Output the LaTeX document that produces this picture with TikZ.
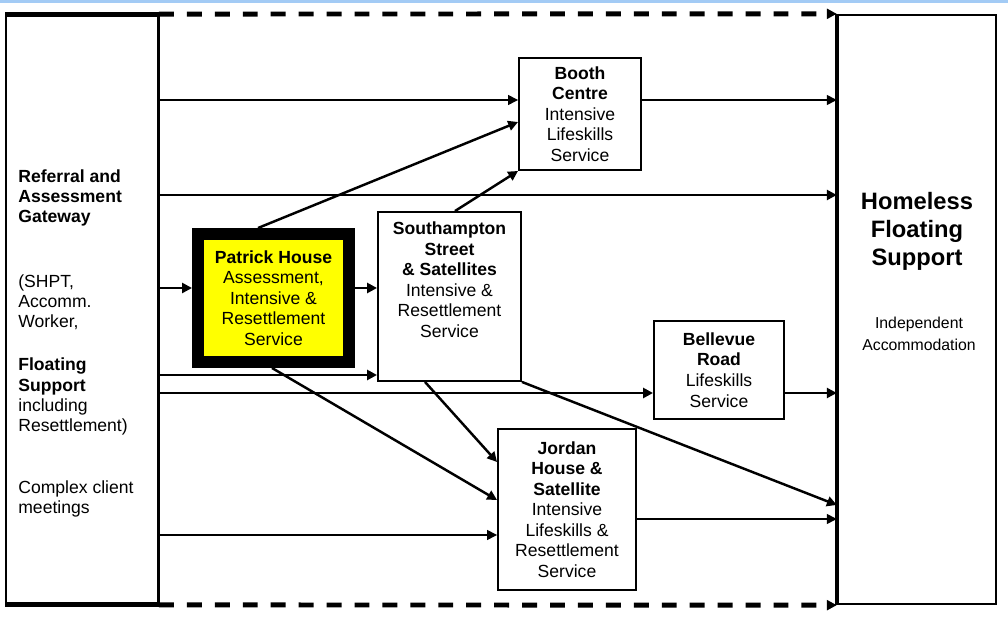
\documentclass[tikz,border=0pt]{standalone}
\usepackage{fontspec}
\setmainfont{Liberation Sans}
\usetikzlibrary{
    arrows.meta, % Filled triangle tips on the flows.
    positioning  % Text hung below a box top.
}
\definecolor{pageblue}{HTML}{A3CBF5}
\definecolor{boxyellow}{HTML}{FFFF00}

\begin{document}
\begin{tikzpicture}[%
        x = 0.02cm,
        y = -0.02cm,
        box/.style = {draw, line width = 1.1pt, inner sep = 0pt, align = center,
            font = \fontsize{10}{11.7}\selectfont},
        sidetext/.style = {inner sep = 0pt, align = left, anchor = west,
            font = \fontsize{10}{11.4}\selectfont},
        flow/.style = {-{Triangle[length = 5.6pt, width = 5.6pt]}, line width = 0.8pt},
        heavyflow/.style = {flow, line width = 1.4pt},
        dashflow/.style = {-{Triangle[length = 5.6pt, width = 5.6pt]}, line width = 2.8pt,
            dash pattern = on 8.5pt off 7.4pt}
    ]

        % Frame of the picture, with the strip along the top.
        \useasboundingbox (0,0) rectangle (1008,617);
        \fill[pageblue] (0,0) rectangle (1008,3);

        % Gateway column on the left, outcome column on the right.
        \node[box, minimum width = 3.04cm, minimum height = 11.78cm] (gw) at (82, 309.5) {};
        \node[box, line width = 1.4pt, minimum width = 3.16cm, minimum height = 11.78cm] (hfs) at (917, 309.5) {};
        \draw[line width = 2.8pt] (gw.north west) -- (gw.north east);
        \draw[line width = 2.8pt] (gw.south west) -- (gw.south east);
        \draw[line width = 1.6pt] (gw.north east) -- (gw.south east);
        \draw[line width = 2.4pt] (hfs.north west) -- (hfs.south west);

        % Texts of the two columns.
        \node[sidetext, font = \fontsize{10}{11.4}\selectfont\bfseries] (gw-a) at (18, 198)
            {Referral and\\Assessment\\Gateway};
        \node[sidetext] (gw-b) at (18, 302.5) {(SHPT,\\Accomm.\\Worker,};
        \node[sidetext] (gw-c) at (18, 396.5)
            {\textbf{Floating}\\\textbf{Support}\\including\\Resettlement)};
        \node[sidetext] (gw-d) at (18, 499) {Complex client\\meetings};
        \node[inner sep = 0pt, align = center, font = \fontsize{13.5}{16}\selectfont\bfseries]
            (hfs-a) at (917, 231) {Homeless\\Floating\\Support};
        \node[inner sep = 0pt, align = center, font = \fontsize{9}{12.5}\selectfont]
            (hfs-b) at (919, 334) {Independent\\Accommodation};

        % The services in between.
        \node[box, minimum width = 2.44cm, minimum height = 2.24cm] (bc) at (580, 114)
            {\textbf{Booth}\\\textbf{Centre}\\Intensive\\Lifeskills\\Service};
        \node[box, fill = boxyellow, line width = 0.24cm, minimum width = 3.02cm,
            minimum height = 2.56cm] (ph) at (273.5, 298)
            {\textbf{Patrick House}\\Assessment,\\Intensive \&\\Resettlement\\Service};
        \node[box, minimum width = 2.86cm, minimum height = 3.38cm] (ss) at (449.5, 296.5) {};
        \node[box, draw = none, below = 0.2cm of ss.north] (ss-text)
            {\textbf{Southampton}\\\textbf{Street}\\\textbf{\& Satellites}\\Intensive \&\\Resettlement\\Service};
        \node[box, minimum width = 2.6cm, minimum height = 1.96cm] (br) at (719, 370)
            {\textbf{Bellevue}\\\textbf{Road}\\Lifeskills\\Service};
        \node[box, minimum width = 2.76cm, minimum height = 3.22cm] (jh) at (567, 509.5)
            {\textbf{Jordan}\\\textbf{House \&}\\\textbf{Satellite}\\Intensive\\Lifeskills \&\\Resettlement\\Service};

        % Straight runs across.
        \draw[flow] (gw.east |- 0,100) -- (bc.west |- 0,100);
        \draw[flow] (bc.east |- 0,100) -- (hfs.west |- 0,100);
        \draw[heavyflow] (gw.east |- 0,195) -- (hfs.west |- 0,195);
        \draw[heavyflow] (gw.east |- 0,288) -- (ph.west |- 0,288);
        \draw[heavyflow] (ph.east |- 0,288) -- (ss.west |- 0,288);
        \draw[heavyflow] (gw.east |- 0,375) -- (ss.west |- 0,375);
        \draw[heavyflow] (gw.east |- 0,393) -- (br.west |- 0,393);
        \draw[heavyflow] (br.east |- 0,393) -- (hfs.west |- 0,393);
        \draw[flow] (gw.east |- 0,535) -- (jh.west |- 0,535);
        \draw[flow] (jh.east |- 0,519) -- (hfs.west |- 0,519);

        % Moves between the services.
        \draw[heavyflow] (ph.north -| 258,0) -- (bc.west |- 0,122);
        \draw[heavyflow] (ss.north -| 455,0) -- (bc.south west);
        \draw[heavyflow] (ph.south -| 272,0) -- (jh.west |- 0,500);
        \draw[heavyflow] (ss.south -| 425,0) -- (jh.west |- 0,462);
        \draw[heavyflow] (ss.south east) -- (hfs.west |- 0,505);

        % Dashed routes along the top and the bottom.
        \draw[dashflow] (gw.north east) -- (hfs.north west);
        \draw[dashflow] (gw.south east) -- (hfs.south west);
    \end{tikzpicture}
\end{document}
